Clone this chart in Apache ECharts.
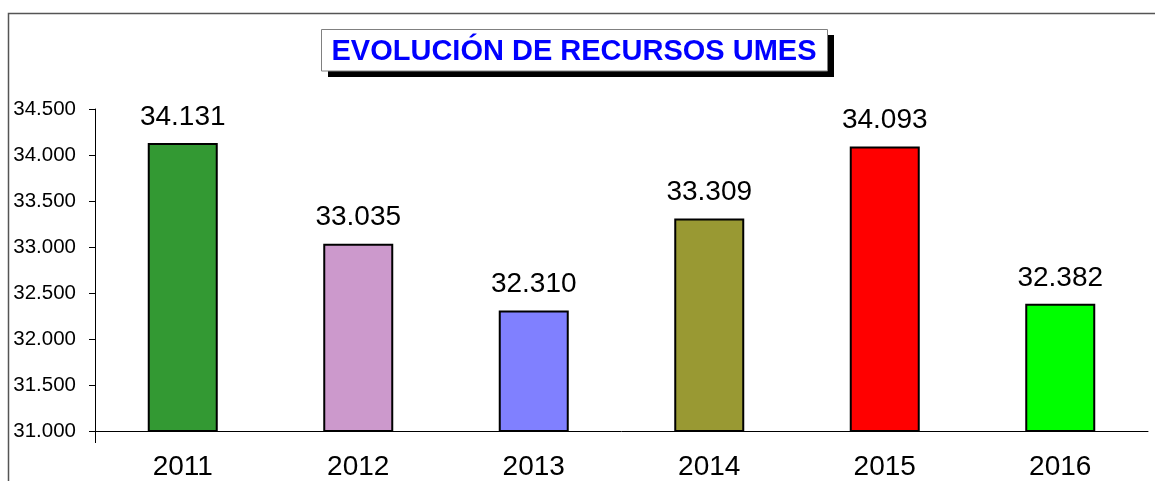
<!DOCTYPE html>
<html>
<head>
<meta charset="utf-8">
<script src="https://cdn.jsdelivr.net/npm/echarts@6/dist/echarts.min.js"></script>
<style>
html,body{margin:0;padding:0;background:#fff;}
#chart{width:1155px;height:481px;}
</style>
</head>
<body>
<div id="chart"></div>
<script>
const titleText = 'EVOLUCIÓN DE RECURSOS UMES';
const categories = ['2011', '2012', '2013', '2014', '2015', '2016'];
const values = [34131, 33035, 32310, 33309, 34093, 32382];
const barColors = ['#339933', '#CC99CC', '#8080FF', '#999933', '#FF0000', '#00FF00'];

function fmt(v) {
  return String(Math.round(v)).replace(/\B(?=(\d{3})+(?!\d))/g, '.');
}

const chart = echarts.init(document.getElementById('chart'), null, {renderer: 'canvas'});
chart.setOption({
  animation: false,
  backgroundColor: '#fff',
  graphic: [
    {
      type: 'rect', z: -10, silent: true,
      shape: {x: 8.5, y: 13.5, width: 1300, height: 600},
      style: {fill: 'none', stroke: '#555', lineWidth: 1.5}
    },
    {
      type: 'rect', z: 1, silent: true,
      shape: {x: 328, y: 35, width: 506, height: 42},
      style: {fill: '#000'}
    },
    {
      type: 'rect', z: 2, silent: true,
      shape: {x: 321.5, y: 29.5, width: 506, height: 41.5},
      style: {fill: '#fff', stroke: '#808080', lineWidth: 1}
    },
    {
      type: 'line', z: 3, silent: true,
      shape: {x1: 95.5, y1: 432, x2: 95.5, y2: 443},
      style: {stroke: '#000', lineWidth: 1}
    }
  ],
  title: {
    text: titleText,
    left: 574,
    top: 37,
    textAlign: 'center',
    padding: 0,
    z: 10,
    textStyle: {
      fontFamily: 'Liberation Sans, Arial, sans-serif',
      fontSize: 29,
      fontWeight: 'bold',
      color: '#0000FF',
      lineHeight: 29
    }
  },
  grid: {left: 95, right: 7, top: 109, bottom: 49, containLabel: false},
  xAxis: {
    type: 'category',
    data: categories,
    axisLine: {lineStyle: {color: '#000', width: 1}},
    axisTick: {show: false},
    axisLabel: {
      color: '#000',
      fontSize: 28,
      fontFamily: 'Liberation Sans, Arial, sans-serif',
      margin: 22
    }
  },
  yAxis: {
    type: 'value',
    min: 31000,
    max: 34500,
    interval: 500,
    splitLine: {show: false},
    axisLine: {show: true, lineStyle: {color: '#000', width: 1}},
    axisTick: {show: true, length: 6, lineStyle: {color: '#000'}},
    axisLabel: {
      color: '#000',
      fontSize: 20.5,
      fontFamily: 'Liberation Sans, Arial, sans-serif',
      margin: 19,
      formatter: fmt
    }
  },
  series: [{
    type: 'bar',
    barWidth: 70,
    data: values.map((v, i) => ({
      value: v,
      itemStyle: {color: barColors[i], borderColor: '#000', borderWidth: 2}
    })),
    label: {
      show: true,
      position: 'top',
      distance: 12,
      color: '#000',
      fontSize: 28,
      fontFamily: 'Liberation Sans, Arial, sans-serif',
      formatter: p => fmt(p.value)
    }
  }]
});
</script>
</body>
</html>
